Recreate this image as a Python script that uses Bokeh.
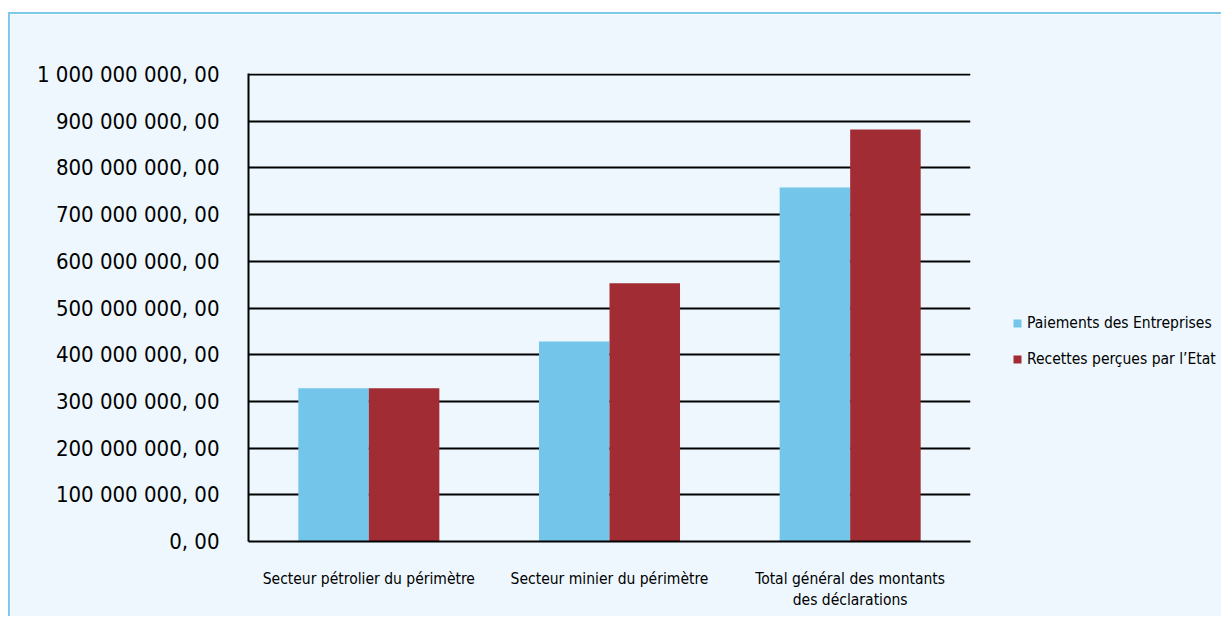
from bokeh.plotting import figure
from bokeh.models import ColumnDataSource, FactorRange, Range1d, FixedTicker, Legend, LegendItem
from bokeh.transform import dodge
from bokeh.embed import file_html
from bokeh.resources import INLINE

categories = ["Secteur pétrolier du périmètre",
              "Secteur minier du périmètre",
              "Total général des montants\ndes déclarations"]
paiements = [328e6, 428e6, 758e6]
recettes = [328e6, 553e6, 882e6]
series_names = ["Paiements des Entreprises", "Recettes perçues par l\u2019Etat"]
tick_values = [0, 100e6, 200e6, 300e6, 400e6, 500e6, 600e6, 700e6, 800e6, 900e6, 1000e6]
tick_labels = ["0, 00", "100 000 000, 00", "200 000 000, 00", "300 000 000, 00",
               "400 000 000, 00", "500 000 000, 00", "600 000 000, 00", "700 000 000, 00",
               "800 000 000, 00", "900 000 000, 00", "1 000 000 000, 00"]

BG = "#EDF7FD"
BLUE = "#73C6E9"
RED = "#A12C33"
FONT = "DejaVu Sans Condensed"

src = ColumnDataSource(dict(cat=categories, pay=paiements, rec=recettes))

p = figure(x_range=FactorRange(*categories), y_range=Range1d(0, 1e9 * 468 / 467),
           frame_width=722, frame_height=468, output_backend="svg", toolbar_location=None,
           min_border_left=238, min_border_right=0, min_border_top=59, min_border_bottom=75)
p.styles = {"margin-top": "12px", "margin-left": "8px",
            "border-top": "2px solid #7EC9EA", "border-left": "2px solid #7EC9EA"}
p.background_fill_color = BG
p.border_fill_color = BG
p.outline_line_color = None

r1 = p.vbar(x=dodge("cat", -0.1465, range=p.x_range), top="pay", width=0.293, source=src,
            fill_color=BLUE, line_color=None)
r2 = p.vbar(x=dodge("cat", 0.1465, range=p.x_range), top="rec", width=0.293, source=src,
            fill_color=RED, line_color=None)

p.xgrid.grid_line_color = None
p.ygrid.grid_line_color = "black"
p.ygrid.grid_line_width = 2
p.ygrid.ticker = FixedTicker(ticks=tick_values)

p.yaxis.ticker = FixedTicker(ticks=tick_values)
p.yaxis.major_label_overrides = {v: l for v, l in zip(tick_values, tick_labels)}
p.yaxis.major_tick_line_color = None
p.yaxis.minor_tick_line_color = None
p.yaxis.axis_line_color = "black"
p.yaxis.axis_line_width = 2
p.yaxis.major_label_standoff = 23
p.yaxis.major_label_text_font = FONT
p.yaxis.major_label_text_font_size = "22px"
p.yaxis.major_label_text_color = "black"

p.xaxis.major_tick_line_color = None
p.xaxis.axis_line_color = "black"
p.xaxis.axis_line_width = 2
p.xaxis.major_label_standoff = 22
p.xaxis.major_label_text_font = FONT
p.xaxis.major_label_text_font_size = "15.5px"
p.xaxis.major_label_text_color = "black"

legend = Legend(items=[LegendItem(label=series_names[0], renderers=[r1]),
                       LegendItem(label=series_names[1], renderers=[r2])],
                location=(42, 172), orientation="vertical")
legend.glyph_width = 10
legend.glyph_height = 10
legend.label_standoff = 5
legend.label_height = 20
legend.spacing = 16
legend.padding = 0
legend.margin = 0
legend.border_line_color = None
legend.background_fill_alpha = 0
legend.label_text_font = FONT
legend.label_text_font_size = "15.5px"
legend.label_text_color = "black"
p.add_layout(legend, "right")

open("out.html", "w").write(file_html(p, INLINE))
